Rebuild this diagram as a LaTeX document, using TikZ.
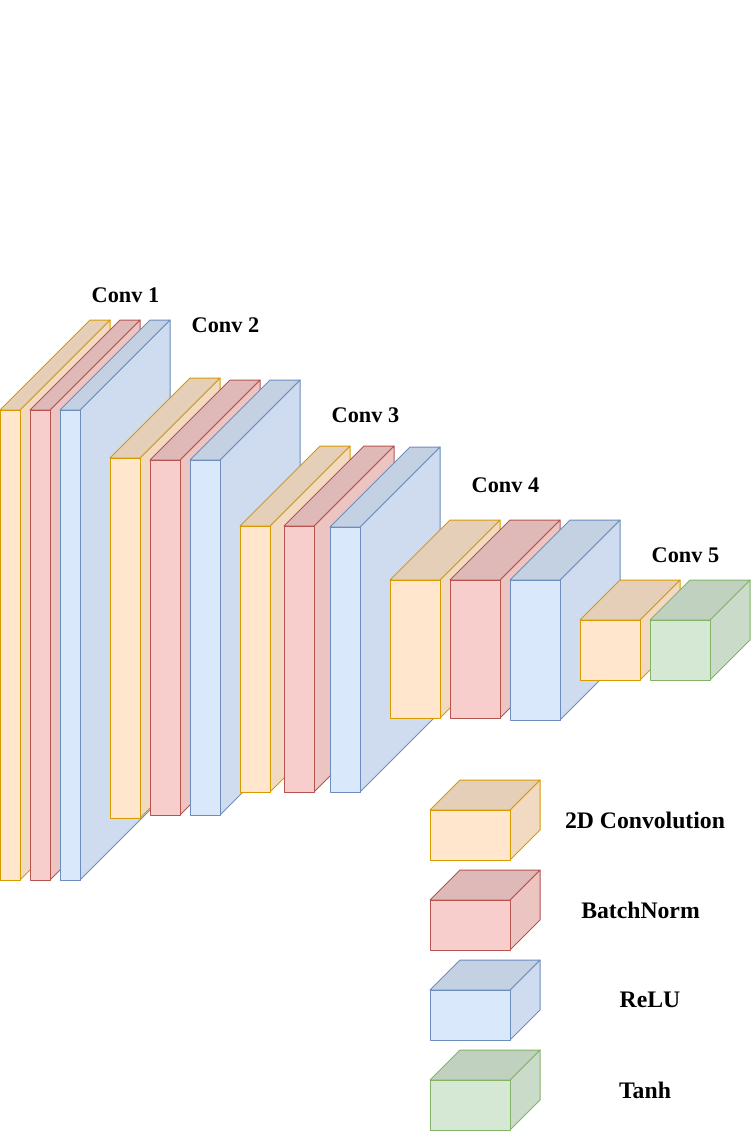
\documentclass[tikz,border=0pt]{standalone}
\usepackage{fontspec}
\setmainfont{Liberation Serif}
\usetikzlibrary{positioning}
\definecolor{convfill}{HTML}{FFE6CC}
\definecolor{convline}{HTML}{D79B00}
\definecolor{normfill}{HTML}{F8CECC}
\definecolor{normline}{HTML}{B85450}
\definecolor{relufill}{HTML}{DAE8FC}
\definecolor{reluline}{HTML}{6C8EBF}
\definecolor{tanhfill}{HTML}{D5E8D4}
\definecolor{tanhline}{HTML}{82B366}

% #1 fill, #2 line, #3 left, #4 top of front face, #5 front width, #6 front height, #7 depth
\newcommand{\layerbox}[7]{%
    \draw[#2, fill=#1!95!black] (#3+#5, -#4) -- ++(#7, #7) -- ++(0, -#6) -- ++(-#7, -#7) -- cycle;
    \draw[#2, fill=#1!90!black] (#3, -#4) -- ++(#7, #7) -- ++(#5, 0) -- ++(-#7, -#7) -- cycle;
    \draw[#2, fill=#1] (#3, -#4) rectangle ++(#5, -#6);
}

\begin{document}
\begin{tikzpicture}[x=1pt, y=1pt, line width=1pt, line join=round,
    tag/.style={font=\fontsize{22.3}{26}\selectfont\bfseries, text=black, inner sep=0pt},
    legendtag/.style={tag, font=\fontsize{23.7}{28}\selectfont\bfseries}]
    \useasboundingbox (0, 0) rectangle (751, -1131);

    % Conv 1
    \layerbox{convfill}{convline}{0}{410}{20}{470}{90}
    \layerbox{normfill}{normline}{30}{410}{20}{470}{90}
    \layerbox{relufill}{reluline}{60}{410}{20}{470}{90}

    % Conv 2
    \layerbox{convfill}{convline}{110}{458}{30}{360}{80}
    \layerbox{normfill}{normline}{150}{460}{30}{355}{80}
    \layerbox{relufill}{reluline}{190}{460}{30}{355}{80}

    % Conv 3
    \layerbox{convfill}{convline}{240}{526}{30}{266}{80}
    \layerbox{normfill}{normline}{284}{526}{30}{266}{80}
    \layerbox{relufill}{reluline}{330}{527}{30}{265}{80}

    % Conv 4
    \layerbox{convfill}{convline}{390}{580}{50}{138}{60}
    \layerbox{normfill}{normline}{450}{580}{50}{138}{60}
    \layerbox{relufill}{reluline}{510}{580}{50}{140}{60}

    % Conv 5
    \layerbox{convfill}{convline}{580}{620}{60}{60}{40}
    \layerbox{tanhfill}{tanhline}{650}{620}{60}{60}{40}

    % Legend
    \layerbox{convfill}{convline}{430}{810}{80}{50}{30}
    \layerbox{normfill}{normline}{430}{900}{80}{50}{30}
    \layerbox{relufill}{reluline}{430}{990}{80}{50}{30}
    \layerbox{tanhfill}{tanhline}{430}{1080}{80}{50}{30}

    % Labels
    \node[tag] (conv1) at (125.5, -295) {Conv 1};
    \node[tag] (conv2) at (225.5, -325) {Conv 2};
    \node[tag] (conv3) at (365.5, -415) {Conv 3};
    \node[tag] (conv4) at (505.5, -485) {Conv 4};
    \node[tag] (conv5) at (685.5, -555) {Conv 5};
    \node[legendtag] (convname) at (645, -820) {2D Convolution};
    \node[legendtag] (normname) at (640.5, -910) {BatchNorm};
    \node[legendtag] (reluname) at (650, -1000) {ReLU};
    \node[legendtag] (tanhname) at (645, -1090) {Tanh};
\end{tikzpicture}
\end{document}
